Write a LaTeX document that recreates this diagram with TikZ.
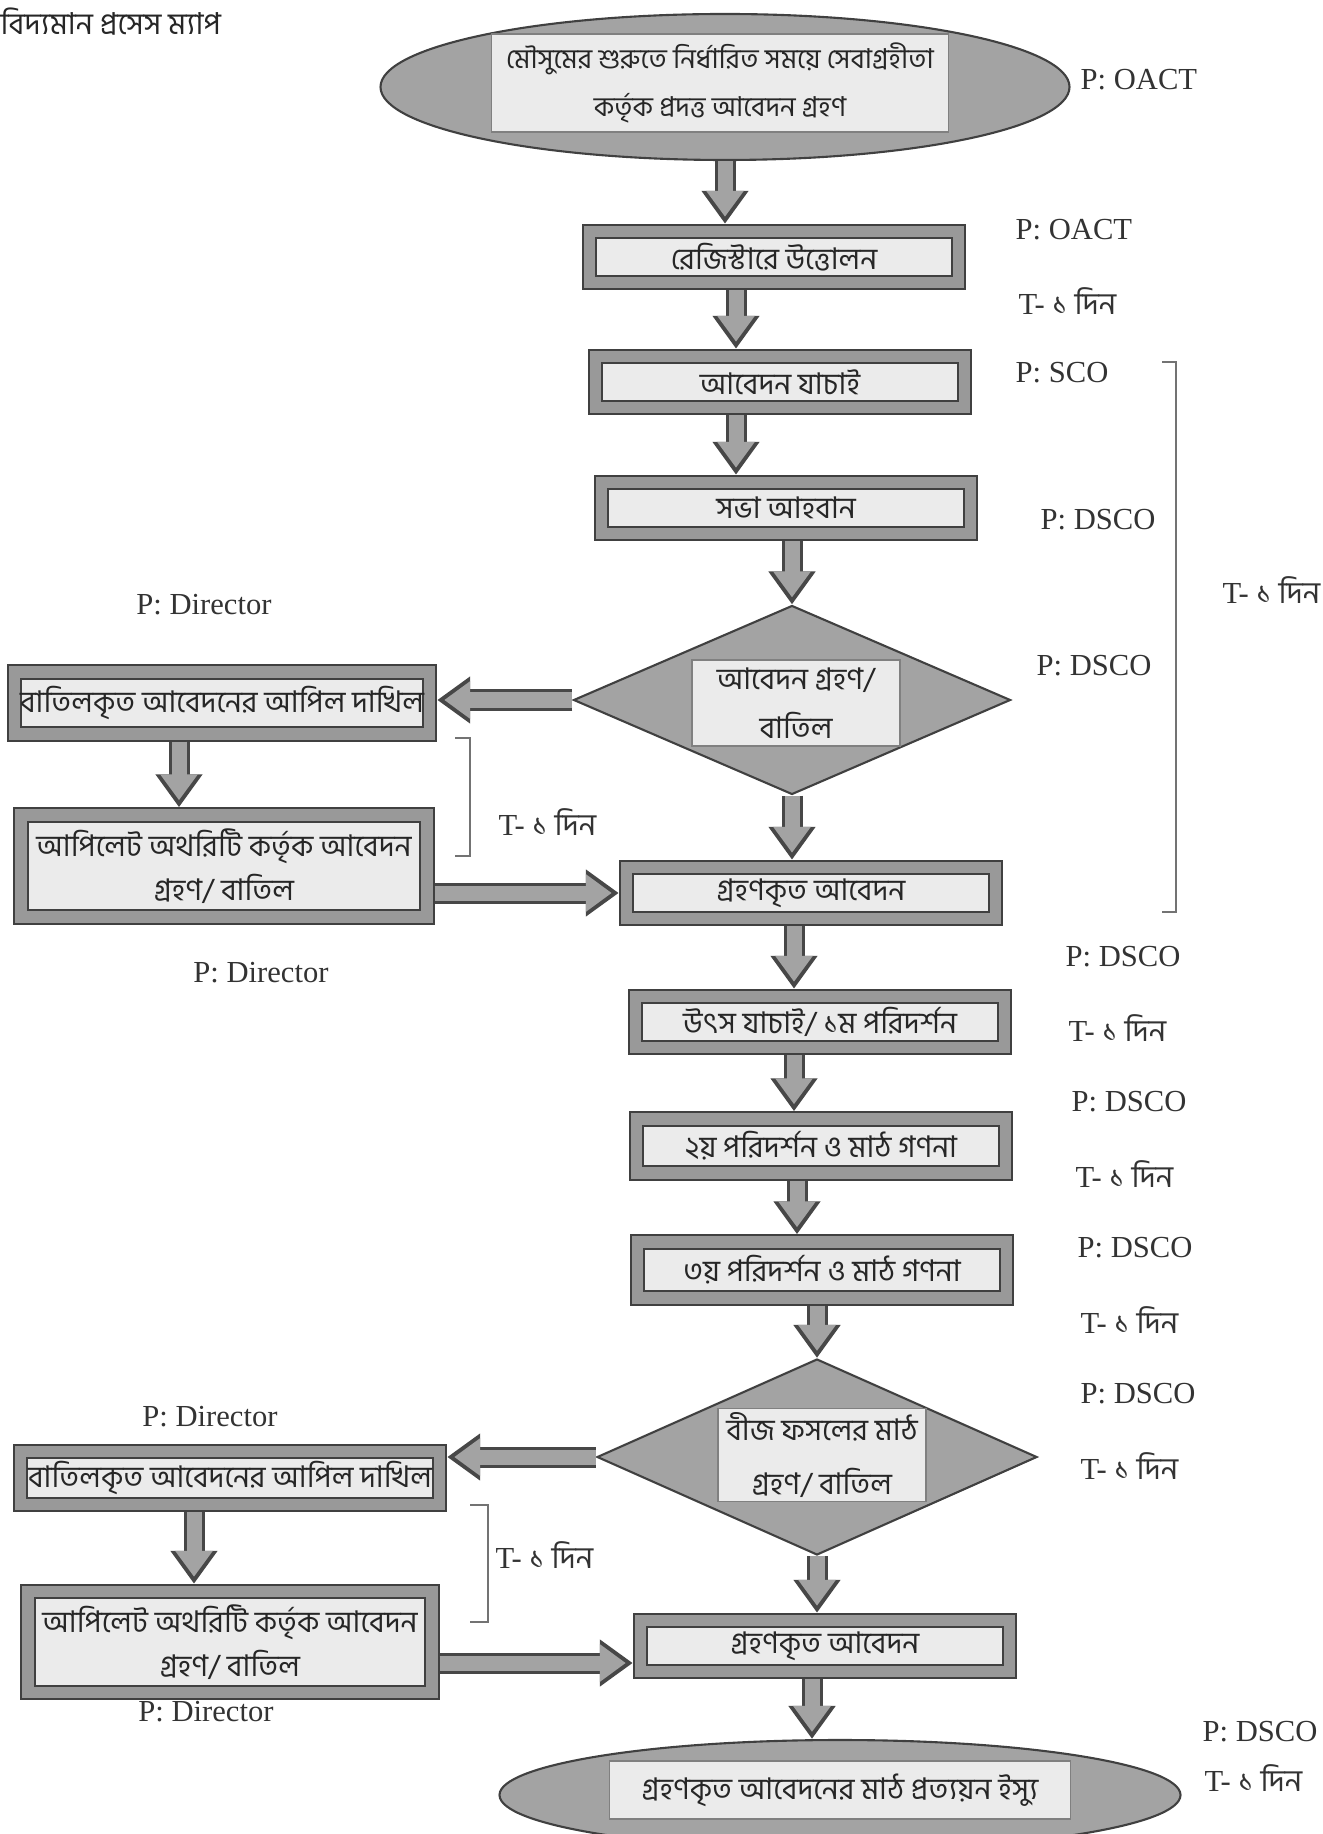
\documentclass[tikz,border=0pt]{standalone}
\usepackage{fontspec}
\setmainfont{Liberation Serif}
\newfontfamily\bn[Script=Bengali]{Hind Siliguri}
\usetikzlibrary{arrows.meta,shapes.geometric}
\newcommand{\tdin}{T- {\bn ১ দিন}}
\tikzset{
  procbox/.style={rectangle, draw=black!75, line width=0.5pt, double=black!40, double distance=3.4pt,
    fill=black!8, outer sep=2.2pt, minimum width=3.69cm, minimum height=0.51cm, inner sep=1pt,
    font=\bn\fontsize{8.5}{12.5}\selectfont, text=black!85, align=center},
  blob/.style={draw=black!75, line width=0.6pt, fill=black!36, inner sep=0pt},
  inbox/.style={rectangle, draw=black!50, line width=0.4pt, fill=black!8, inner sep=0pt,
    font=\bn\fontsize{8.5}{13.8}\selectfont, text=black!85, align=center},
  flow/.style={draw=black!36, line width=1.5mm, shorten >=0.7mm, -{Triangle[length=2.6mm,width=3.6mm]},
    preaction={draw=black!72, line width=2.1mm, shorten >=0pt, -{Triangle[length=3.3mm,width=4.5mm]}}},
  role/.style={anchor=west, font=\fontsize{8.7}{10}\selectfont, text=black!80, inner sep=0pt},
  brk/.style={draw=black!55, line width=0.4pt},
}
\begin{document}
\begin{tikzpicture}
\useasboundingbox (0,0) rectangle (13.22,-18.34);
\node[anchor=west, inner sep=0pt, font=\bn\fontsize{8.6}{11}\selectfont, text=black!85] (title) at (0,-0.22) {বিদ্যমান প্রসেস ম্যাপ};

% main column
\node[blob, ellipse, minimum width=6.89cm, minimum height=1.46cm] (top) at (7.25,-0.87) {};
\node[inbox, minimum width=4.57cm, minimum height=0.98cm, font=\bn\fontsize{7.8}{13.6}\selectfont] (toptxt) at (7.20,-0.83) {মৌসুমের শুরুতে নির্ধারিত সময়ে সেবাগ্রহীতা\\কর্তৃক প্রদত্ত আবেদন গ্রহণ};
\node[procbox] (reg) at (7.74,-2.57) {রেজিস্টারে উত্তোলন};
\node[procbox] (chk) at (7.80,-3.82) {আবেদন যাচাই};
\node[procbox] (meet) at (7.86,-5.08) {সভা আহবান};
\node[blob, diamond, minimum width=4.37cm, minimum height=1.89cm] (dec1) at (7.92,-7.00) {};
\node[inbox, minimum width=2.08cm, minimum height=0.86cm] (dec1txt) at (7.96,-7.03) {আবেদন গ্রহণ/\\বাতিল};
\node[procbox] (acc1) at (8.11,-8.93) {গ্রহণকৃত আবেদন};
\node[procbox] (src) at (8.20,-10.22) {উৎস যাচাই/ ১ম পরিদর্শন};
\node[procbox, minimum height=0.54cm] (insp2) at (8.21,-11.46) {২য় পরিদর্শন ও মাঠ গণনা};
\node[procbox, minimum height=0.56cm] (insp3) at (8.22,-12.70) {৩য় পরিদর্শন ও মাঠ গণনা};
\node[blob, diamond, minimum width=4.40cm, minimum height=1.96cm] (dec2) at (8.17,-14.57) {};
\node[inbox, minimum width=2.08cm, minimum height=0.93cm, font=\bn\fontsize{8.5}{15.5}\selectfont] (dec2txt) at (8.22,-14.55) {বীজ ফসলের মাঠ\\গ্রহণ/ বাতিল};
\node[procbox] (acc2) at (8.25,-16.46) {গ্রহণকৃত আবেদন};
\node[blob, ellipse, minimum width=6.81cm, minimum height=1.10cm] (cert) at (8.40,-17.95) {};
\node[inbox, minimum width=4.61cm, minimum height=0.58cm] (certtxt) at (8.40,-17.90) {গ্রহণকৃত আবেদনের মাঠ প্রত্যয়ন ইস্যু};

% appeal branches
\node[procbox, minimum width=4.15cm, minimum height=0.62cm] (app1) at (2.22,-7.03) {বাতিলকৃত আবেদনের আপিল দাখিল};
\node[procbox, minimum width=4.06cm, minimum height=1.02cm] (rev1) at (2.24,-8.66) {আপিলেট অথরিটি কর্তৃক আবেদন\\গ্রহণ/ বাতিল};
\node[procbox, minimum width=4.19cm, minimum height=0.53cm] (app2) at (2.30,-14.78) {বাতিলকৃত আবেদনের আপিল দাখিল};
\node[procbox, minimum width=4.04cm, minimum height=1.01cm] (rev2) at (2.30,-16.42) {আপিলেট অথরিটি কর্তৃক আবেদন\\গ্রহণ/ বাতিল};

% connectors
\draw[flow] (top.south) -- (top.south |- reg.north);
\draw[flow] ([xshift=-0.38cm]reg.south) -- ([xshift=-0.38cm]reg.south |- chk.north);
\draw[flow] ([xshift=-0.44cm]chk.south) -- ([xshift=-0.44cm]chk.south |- meet.north);
\draw[flow] (meet.south -| dec1.north) -- (dec1.north);
\draw[flow] (dec1.south) -- (dec1.south |- acc1.north);
\draw[flow] ([xshift=-0.17cm]acc1.south) -- ([xshift=-0.17cm]acc1.south |- src.north);
\draw[flow] ([xshift=-0.26cm]src.south) -- ([xshift=-0.26cm]src.south |- insp2.north);
\draw[flow] ([xshift=-0.24cm]insp2.south) -- ([xshift=-0.24cm]insp2.south |- insp3.north);
\draw[flow] (insp3.south -| dec2.north) -- (dec2.north);
\draw[flow] (dec2.south) -- (dec2.south |- acc2.north);
\draw[flow] ([xshift=-0.13cm]acc2.south) -- ([xshift=-0.13cm]acc2.south |- cert.north);
\draw[flow] (dec1.west) -- (dec1.west -| app1.east);
\draw[flow] ([xshift=-0.43cm]app1.south) -- ([xshift=-0.43cm]app1.south |- rev1.north);
\draw[flow] (acc1.west -| rev1.east) -- (acc1.west);
\draw[flow] (dec2.west) -- (dec2.west -| app2.east);
\draw[flow] ([xshift=-0.36cm]app2.south) -- ([xshift=-0.36cm]app2.south |- rev2.north);
\draw[flow] ([yshift=-0.17cm]acc2.west -| rev2.east) -- ([yshift=-0.17cm]acc2.west);

% brackets
\draw[brk] (11.62,-3.62) -- (11.76,-3.62) -- (11.76,-9.12) -- (11.62,-9.12);
\draw[brk] (4.55,-7.38) -- (4.70,-7.38) -- (4.70,-8.56) -- (4.55,-8.56);
\draw[brk] (4.70,-15.05) -- (4.88,-15.05) -- (4.88,-16.22) -- (4.70,-16.22);

% persons and times
\node[role] (pTop) at (10.80,-0.80) {P: OACT};
\node[role] (pReg) at (10.15,-2.30) {P: OACT};
\node[role] (tReg) at (10.18,-3.01) {\tdin};
\node[role] (pChk) at (10.15,-3.73) {P: SCO};
\node[role] (pMeet) at (10.40,-5.20) {P: DSCO};
\node[role] (pDec1) at (10.36,-6.66) {P: DSCO};
\node[role] (tBig) at (12.22,-5.90) {\tdin};
\node[role, anchor=center] (pApp1) at (2.04,-6.05) {P: Director};
\node[role, anchor=center] (pRev1) at (2.61,-9.73) {P: Director};
\node[role] (tApp1) at (4.98,-8.22) {\tdin};
\node[role] (pSrc) at (10.65,-9.57) {P: DSCO};
\node[role] (tSrc) at (10.68,-10.28) {\tdin};
\node[role] (pIn2) at (10.71,-11.02) {P: DSCO};
\node[role] (tIn2) at (10.75,-11.74) {\tdin};
\node[role] (pIn3) at (10.77,-12.48) {P: DSCO};
\node[role] (tIn3) at (10.80,-13.20) {\tdin};
\node[role] (pDec2) at (10.80,-13.94) {P: DSCO};
\node[role] (tDec2) at (10.80,-14.66) {\tdin};
\node[role, anchor=center] (pApp2) at (2.10,-14.17) {P: Director};
\node[role, anchor=center] (pRev2) at (2.06,-17.12) {P: Director};
\node[role] (tApp2) at (4.95,-15.55) {\tdin};
\node[role] (pCert) at (12.02,-17.32) {P: DSCO};
\node[role] (tCert) at (12.04,-17.78) {\tdin};
\end{tikzpicture}
\end{document}
